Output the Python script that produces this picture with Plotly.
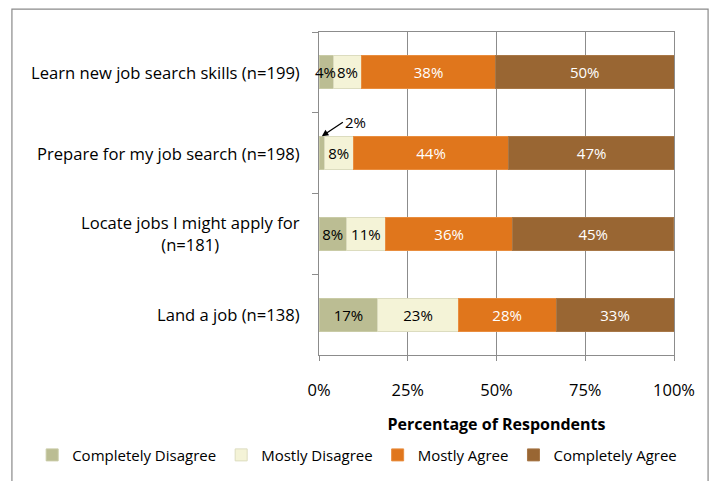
import plotly.graph_objects as go

# survey items, top to bottom
items = ["Learn new job search skills (n=199)",
         "Prepare for my job search (n=198)",
         "Locate jobs I might apply for<br>(n=181)",
         "Land a job (n=138)"]
series = ["Completely Disagree", "Mostly Disagree", "Mostly Agree", "Completely Agree"]

completely_disagree = [4.0, 1.5, 7.7, 16.6]
mostly_disagree = [8.0, 8.1, 11.0, 22.6]
mostly_agree = [37.7, 43.9, 35.9, 27.6]
completely_agree = [50.3, 46.6, 45.3, 33.2]

x_ticks = [0, 25, 50, 75, 100]
x_tick_labels = ["0%", "25%", "50%", "75%", "100%"]

colors = ["#bbbd93", "#f4f3d7", "#e0761c", "#996633"]
edge_colors = ["#c9cba6", "#dcdcbf", "#e98d3e", "#a87848"]
text_colors = ["black", "black", "white", "white"]

FONT = "Open Sans"

fig = go.Figure()
values = [completely_disagree, mostly_disagree, mostly_agree, completely_agree]
for i, name in enumerate(series):
    labels = ["%.0f%%" % v for v in values[i]]
    if i == 0:
        # too narrow for their labels, written on top below
        labels[0] = ""
        labels[1] = ""
    fig.add_trace(go.Bar(
        y=items, x=values[i], name=name, orientation="h",
        marker=dict(color=colors[i], line=dict(color=edge_colors[i], width=1)),
        text=labels, textposition="inside", insidetextanchor="middle",
        constraintext="none", textangle=0,
        textfont=dict(family=FONT, size=15, color=text_colors[i]),
        hoverinfo="skip",
    ))

# category labels, centred like the original
for k, it in enumerate(items):
    fig.add_annotation(xref="paper", x=0, y=k, yref="y", text=it,
                       xanchor="right", xshift=-17, align="center",
                       showarrow=False, font=dict(family=FONT, size=16.6, color="black"))

# first row: label overflows its segment
fig.add_annotation(x=completely_disagree[0] / 2 - 0.3, y=0,
                   text="%.0f%%" % completely_disagree[0], showarrow=False,
                   font=dict(family=FONT, size=15, color="black"))

# second row: small value with a pointer
fig.add_annotation(x=0.8, y=1 - 0.21, text="%.0f%%" % completely_disagree[1],
                   showarrow=True, arrowhead=2,
                   arrowsize=1, arrowwidth=1.3, arrowcolor="black",
                   ax=21, ay=-14, axref="pixel", ayref="pixel",
                   xanchor="left", yanchor="middle",
                   font=dict(family=FONT, size=15, color="black"))

# outer chart frame
fig.add_shape(type="rect", xref="paper", yref="paper", x0=-0.865, x1=1.096,
              y0=-0.45, y1=1.071, line=dict(color="#8a8a8a", width=1.2),
              layer="below")

fig.update_layout(
    barmode="stack", bargap=0.59,
    width=710, height=481,
    margin=dict(l=319, r=36, t=32, b=126, autoexpand=False),
    plot_bgcolor="white", paper_bgcolor="white",
    font=dict(family=FONT, size=14, color="black"),
    legend=dict(orientation="h", x=-0.808, xanchor="left",
                y=-0.31, yanchor="middle",
                font=dict(family=FONT, size=15), traceorder="normal",
                itemwidth=30, tracegroupgap=0),
    xaxis=dict(range=[0, 100], tickvals=x_ticks, ticktext=x_tick_labels,
               showgrid=True, gridcolor="#8c8c8c", gridwidth=1,
               showline=True, linecolor="#8c8c8c", mirror=True,
               ticks="outside", ticklen=5, tickcolor="#8c8c8c",
               ticklabelstandoff=15,
               tickfont=dict(family=FONT, size=16.5), zeroline=False,
               title=dict(text="<b>Percentage of Respondents</b>",
                          font=dict(family=FONT, size=16), standoff=19)),
    yaxis=dict(categoryorder="array", categoryarray=items, autorange="reversed",
               showticklabels=False, showline=True, linecolor="#8c8c8c",
               mirror=True, ticks="outside", ticklen=6, tickcolor="#8c8c8c",
               tickson="boundaries", showgrid=False),
)

fig.write_html("out.html", config={"displayModeBar": False},
               post_script="document.body.style.margin='0';")
